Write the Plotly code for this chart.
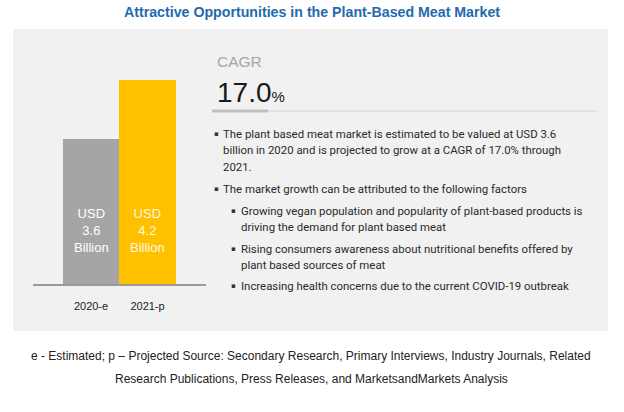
import plotly.graph_objects as go

W, H = 624, 412

# ---- data ----
categories = ["2020-e", "2021-p"]
values = [3.6, 4.2]
bar_labels = ["USD<br>3.6<br>Billion", "USD<br>4.2<br>Billion"]
bar_colors = ["#A5A5A5", "#FFC000"]
label_colors = ["#FFFFFF", "#FFF8E6"]
cagr_value = "17.0"
title_text = "Attractive Opportunities in the Plant-Based Meat Market"
bullets = [
    (0, ["The plant based meat market is estimated to be valued at USD 3.6",
         "billion in 2020 and is projected to grow at a CAGR of 17.0% through",
         "2021."]),
    (0, ["The market growth can be attributed to the following factors"]),
    (1, ["Growing vegan population and popularity of plant-based products is",
         "driving the demand for plant based meat"]),
    (1, ["Rising consumers awareness about nutritional benefits offered by",
         "plant based sources of meat"]),
    (1, ["Increasing health concerns due to the current COVID-19 outbreak"]),
]
bullet_y = [[134, 150, 167], [189], [211, 227], [249, 265], [286]]
footer_lines = [
    "e - Estimated; p – Projected Source: Secondary Research, Primary Interviews, Industry Journals, Related",
    "Research Publications, Press Releases, and MarketsandMarkets Analysis",
]


def px(x):
    return x / W


def py(y):
    return 1 - y / H


SANS = "Liberation Sans, Arial, sans-serif"
BODY = "Roboto, Liberation Sans, sans-serif"

fig = go.Figure()
fig.add_trace(go.Bar(
    x=[0, 1], y=values, marker=dict(color=bar_colors, line=dict(width=0)),
    width=1, hoverinfo="skip", showlegend=False,
))

# baseline of the bar area
y_base = 2.125
fig.update_layout(
    width=W, height=H, margin=dict(l=0, r=0, t=0, b=0),
    paper_bgcolor="white", plot_bgcolor="rgba(0,0,0,0)",
    xaxis=dict(domain=[px(33), px(206)], range=[-1.027, 2.035],
               tickvals=[0, 1], ticktext=categories, showgrid=False,
               zeroline=False, showline=True, linecolor="#9A9A9A", linewidth=1.5,
               ticks="", tickfont=dict(family=SANS, size=11, color="#222"),
               ticklabelstandoff=11, fixedrange=True),
    yaxis=dict(domain=[py(284), py(80)], range=[y_base, 4.2], visible=False,
               fixedrange=True),
    bargap=0,
)

shapes = [
    dict(type="rect", xref="paper", yref="paper", x0=px(13), x1=px(608),
         y0=py(331), y1=py(29), fillcolor="#F1F1F1", line=dict(width=0), layer="below"),
    dict(type="line", xref="paper", yref="paper", x0=px(268), x1=px(597),
         y0=py(111), y1=py(111), line=dict(color="#D4D4D4", width=1)),
    dict(type="line", xref="paper", yref="paper", x0=px(212), x1=px(268),
         y0=py(111), y1=py(111), line=dict(color="#BFBFBF", width=3)),
]

ann = []
ann.append(dict(text="<b>" + title_text + "</b>", x=px(312), y=py(12), xref="paper", yref="paper",
                xanchor="center", yanchor="middle", showarrow=False,
                font=dict(family=SANS, size=14.2, color="#1F6BAE")))
ann.append(dict(text="CAGR", x=px(215), y=py(62), xref="paper", yref="paper",
                xanchor="left", yanchor="middle", showarrow=False,
                font=dict(family=SANS, size=15.5, color="#A6A6A6")))
ann.append(dict(text=cagr_value + "<span style='font-size:15px'>%</span>", x=px(215), y=py(92),
                xref="paper", yref="paper", xanchor="left", yanchor="middle", showarrow=False,
                font=dict(family=SANS, size=28, color="#1A1A1A")))

for i, c in enumerate(categories):
    ann.append(dict(text=bar_labels[i], x=i, y=py(230), xref="x", yref="paper",
                    xanchor="center", yanchor="middle", showarrow=False,
                    font=dict(family=SANS, size=13, color=label_colors[i])))

for (level, lines), ys in zip(bullets, bullet_y):
    bx = 212 if level == 0 else 229
    tx = 221 if level == 0 else 239
    ann.append(dict(text="▪", x=px(bx), y=py(ys[0]), xref="paper", yref="paper",
                    xanchor="left", yanchor="middle", showarrow=False,
                    font=dict(family="DejaVu Sans", size=7, color="#333")))
    for line, yy in zip(lines, ys):
        ann.append(dict(text=line, x=px(tx), y=py(yy), xref="paper", yref="paper",
                        xanchor="left", yanchor="middle", showarrow=False,
                        font=dict(family=BODY, size=11.4, color="#2A2A2A")))

for line, yy in zip(footer_lines, [356, 379]):
    ann.append(dict(text=line, x=px(311), y=py(yy), xref="paper", yref="paper",
                    xanchor="center", yanchor="middle", showarrow=False,
                    font=dict(family=SANS, size=12, color="#222")))

fig.update_layout(shapes=shapes, annotations=ann)
fig.write_html("out.html")
